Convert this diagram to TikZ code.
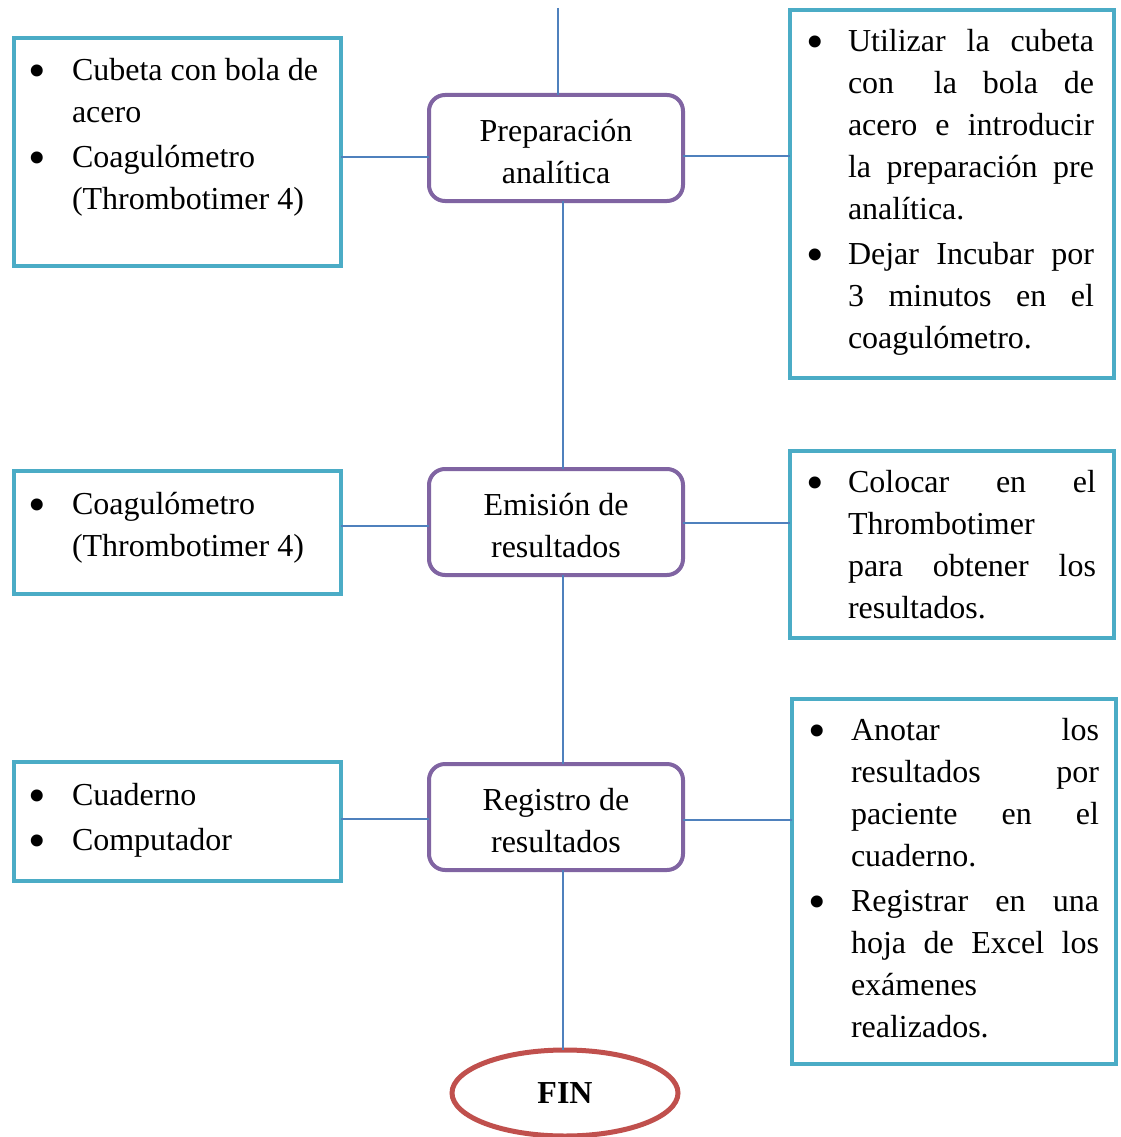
\documentclass[tikz,border=0pt]{standalone}
\usepackage{fontspec}
\setmainfont{Liberation Serif}
\usetikzlibrary{shapes.geometric}
\definecolor{boxteal}{HTML}{4BACC6}
\definecolor{steppurple}{HTML}{8064A2}
\definecolor{endred}{HTML}{C0504D}
\definecolor{linkblue}{HTML}{4F81BD}

% bullet hanging to the left of the text column
\newcommand\bul[1][26.4pt]{\leavevmode\llap{\raisebox{-7pt}{\fontsize{50}{42}\selectfont\textbullet}\hspace{#1}}}
% fully justified line
\newcommand\jl[1]{\makebox[\linewidth][s]{#1}}

\begin{document}
\begin{tikzpicture}[x=1pt,y=-1pt,
  every node/.style={font=\fontsize{32}{42}\selectfont, inner sep=0pt, outer sep=0pt},
  sidebox/.style={draw=boxteal, line width=4pt, fill=white, anchor=north west},
  stepbox/.style={draw=steppurple, line width=4pt, rounded corners=16pt, fill=white,
    anchor=north west, minimum width=254pt, minimum height=106pt},
  endbox/.style={draw=endred, line width=5pt, ellipse, fill=white,
    minimum width=226pt, minimum height=86pt, font=\fontsize{32}{42}\selectfont\bfseries},
  link/.style={draw=linkblue, line width=1.6pt},
  txt/.style={anchor=base west},
  ctxt/.style={anchor=base}
]
\useasboundingbox (0,0) rectangle (1120,1137);

% side boxes, left
\node[sidebox, minimum width=327pt, minimum height=228pt] (L1) at (14,38) {};
\node[sidebox, minimum width=327pt, minimum height=123pt] (L2) at (14,471) {};
\node[sidebox, minimum width=327pt, minimum height=119pt] (L3) at (14,762) {};

% side boxes, right
\node[sidebox, minimum width=324pt, minimum height=368pt] (R1) at (790,10) {};
\node[sidebox, minimum width=324pt, minimum height=187pt] (R2) at (790,451) {};
\node[sidebox, minimum width=324pt, minimum height=365pt] (R3) at (792,699) {};

% process steps
\node[stepbox] (P1) at (429,95) {};
\node[stepbox] (P2) at (429,469) {};
\node[stepbox] (P3) at (429,764) {};
\node[endbox] (fin) at (565,1093) {FIN};

% connectors
\coordinate (top) at (558,8);
\draw[link] (top) -- (top |- P1.north);
\draw[link] ([xshift=7pt]P1.south) -- ([xshift=7pt]P2.north);
\draw[link] ([xshift=7pt]P2.south) -- ([xshift=7pt]P3.north);
\draw[link] ([xshift=7pt]P3.south) -- ([xshift=7pt]P3.south |- fin.north);
\draw[link] (L1.east |- 0,157) -- (P1.west |- 0,157);
\draw[link] (L2.east |- 0,526) -- (P2.west |- 0,526);
\draw[link] (L3.east |- 0,819) -- (P3.west |- 0,819);
\draw[link] (P1.east |- 0,156) -- (R1.west |- 0,156);
\draw[link] (P2.east |- 0,523) -- (R2.west |- 0,523);
\draw[link] (P3.east |- 0,820) -- (R3.west |- 0,820);

% step labels
\node[ctxt] (P1t) at (556,141) {\parbox[t]{250pt}{\centering Preparación\\ analítica}};
\node[ctxt] (P2t) at (556,515) {\parbox[t]{250pt}{\centering Emisión de\\ resultados}};
\node[ctxt] (P3t) at (556,810) {\parbox[t]{250pt}{\centering Registro de\\ resultados}};

% left box texts
\node[txt] (L1t) at (72,81) {\parbox[t]{265pt}{\bul Cubeta con bola de\\ acero\\[3pt]
  \bul Coagulómetro\\ (Thrombotimer 4)}};
\node[txt] (L2t) at (72,514) {\parbox[t]{265pt}{\bul Coagulómetro\\ (Thrombotimer 4)}};
\node[txt] (L3t) at (72,805) {\parbox[t]{265pt}{\bul Cuaderno\\[3pt] \bul Computador}};

% right box texts
\node[txt] (R1t) at (848,52) {\parbox[t]{246pt}{%
  \bul[24pt]\jl{Utilizar la cubeta}\\
  \jl{con\hspace{14pt} la bola de}\\
  \jl{acero e introducir}\\
  \jl{la preparación pre}\\
  analítica.\\[3pt]
  \bul[24pt]\jl{Dejar Incubar por}\\
  \jl{3 minutos en el}\\
  coagulómetro.}};
\node[txt] (R2t) at (848,492) {\parbox[t]{248pt}{%
  \bul[24pt]\jl{Colocar en el}\\
  Thrombotimer\\
  \jl{para obtener los}\\
  resultados.}};
\node[txt] (R3t) at (851,740) {\parbox[t]{248pt}{%
  \bul[25pt]\jl{Anotar los}\\
  \jl{resultados por}\\
  \jl{paciente en el}\\
  cuaderno.\\[3pt]
  \bul[25pt]\jl{Registrar en una}\\
  \jl{hoja de Excel los}\\
  exámenes\\
  realizados.}};
\end{tikzpicture}
\end{document}
